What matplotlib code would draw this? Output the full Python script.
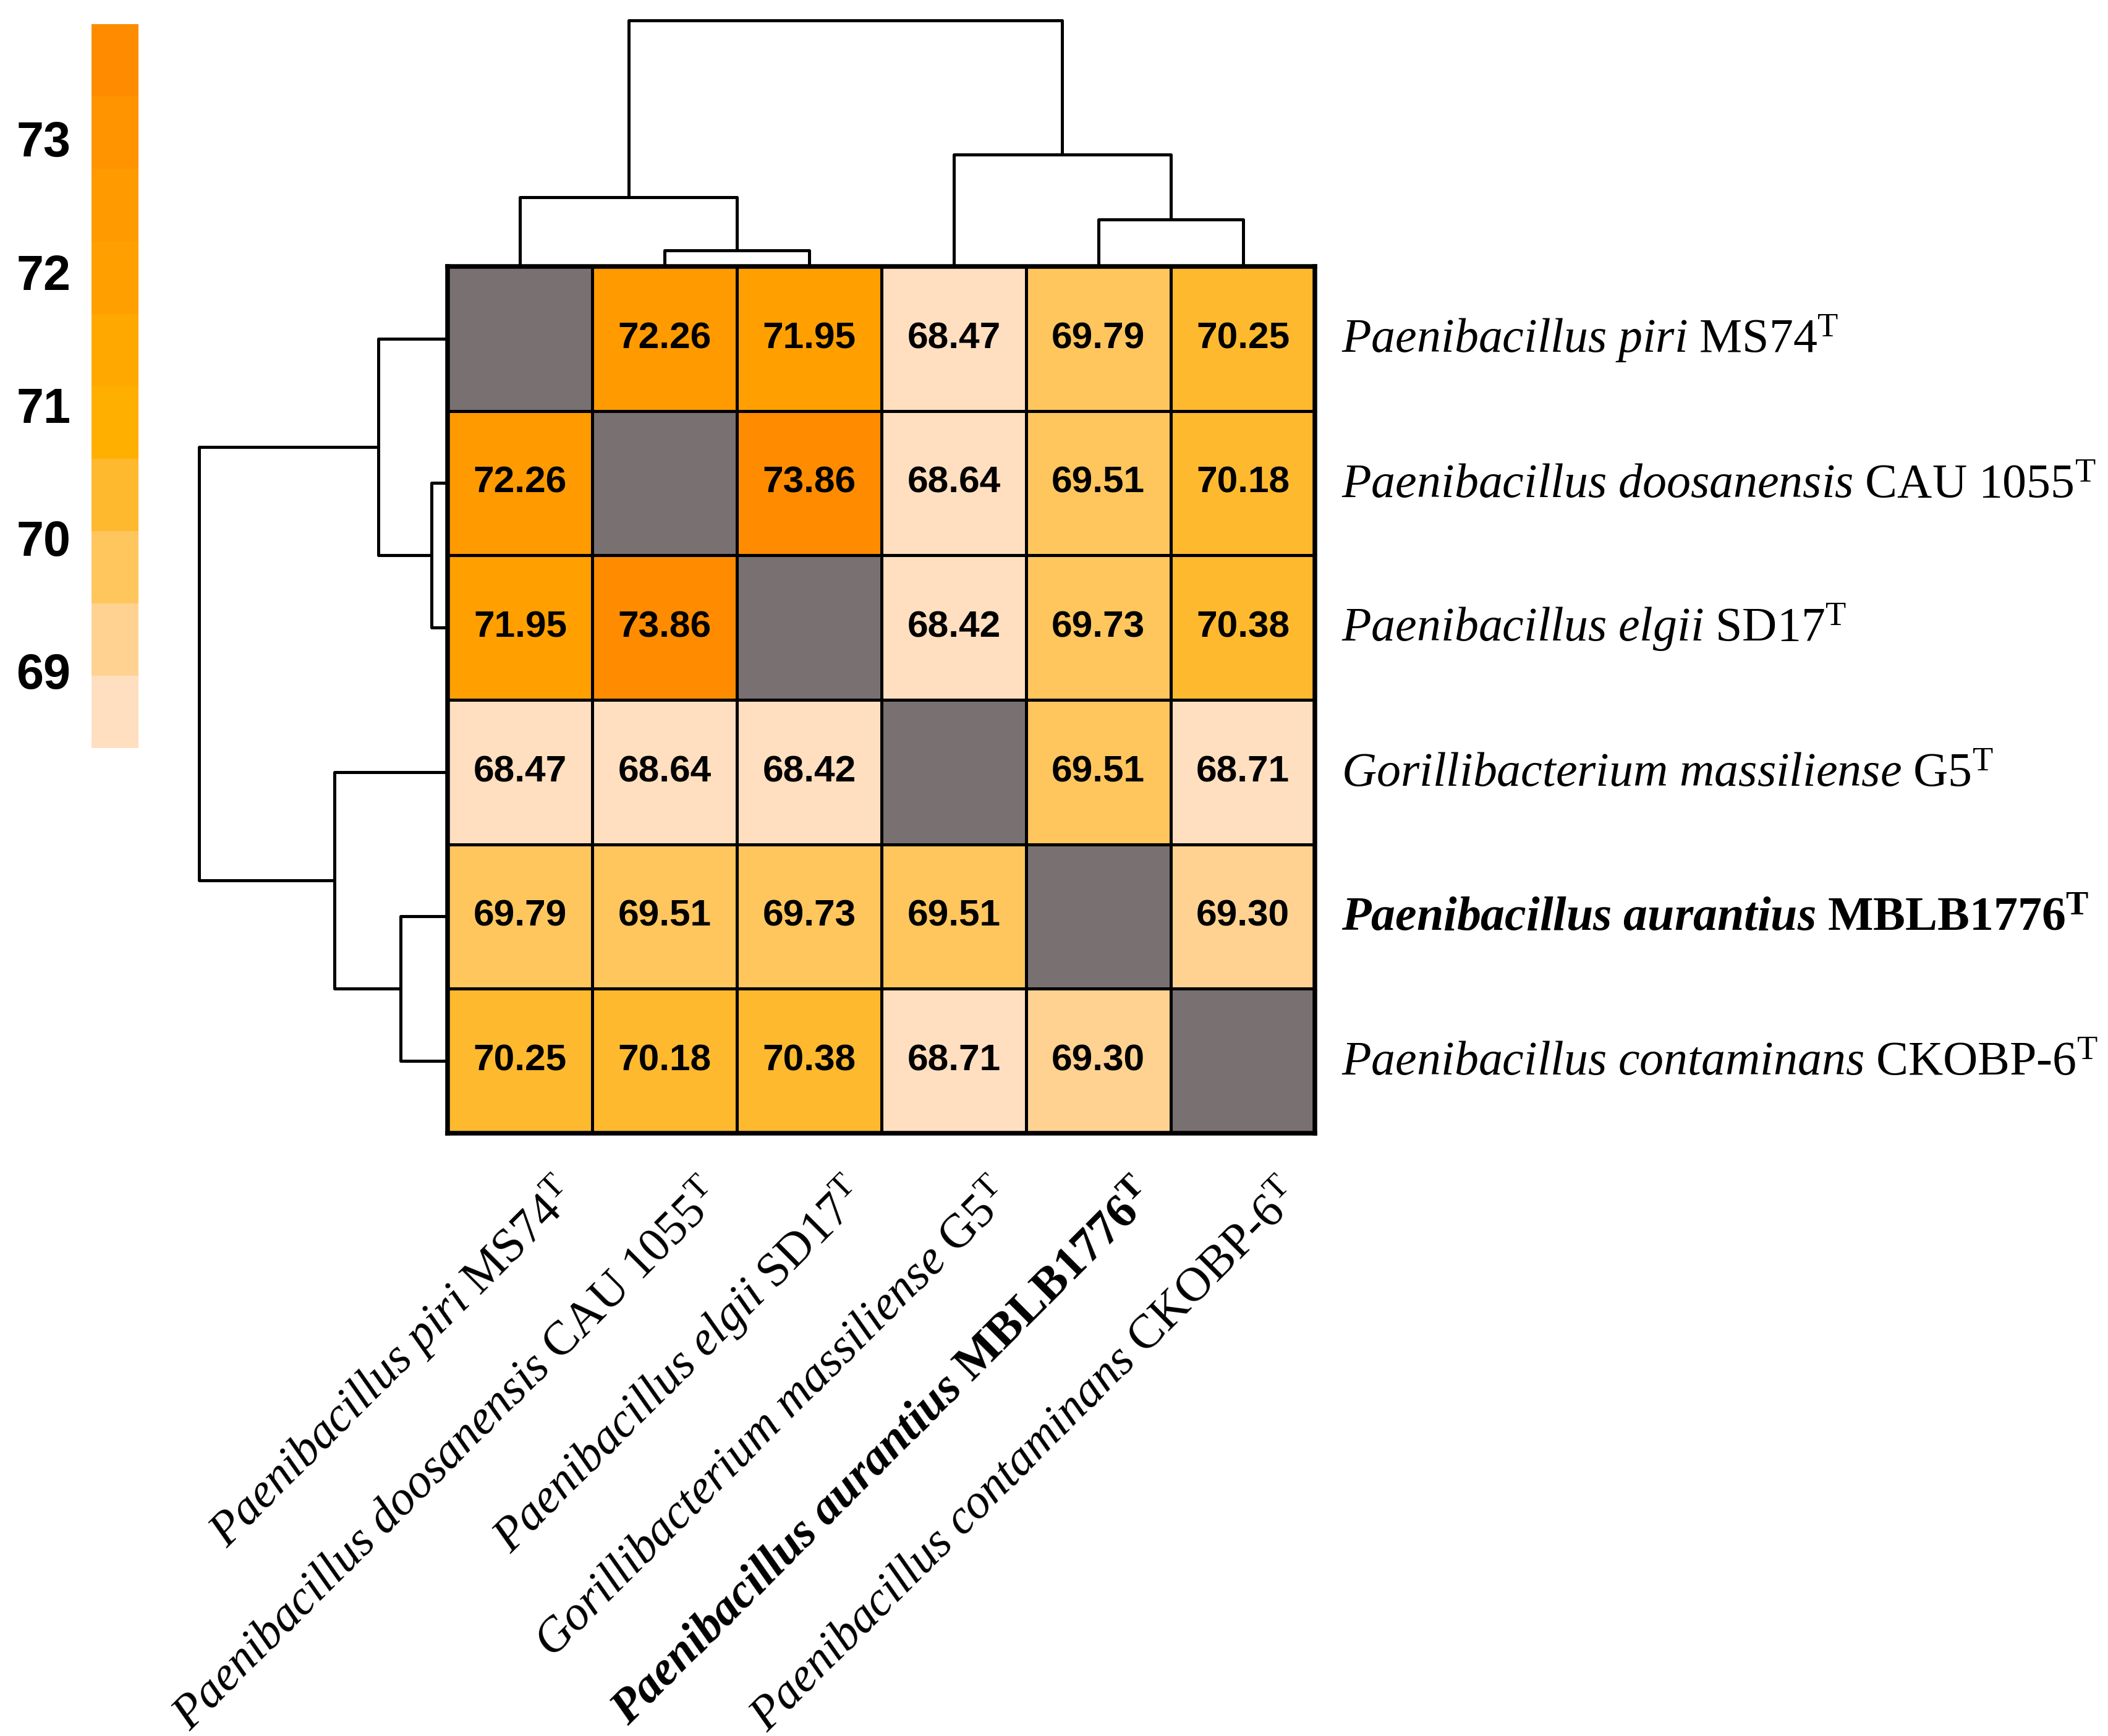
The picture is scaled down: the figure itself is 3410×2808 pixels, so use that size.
import numpy as np
import matplotlib
matplotlib.use("Agg")
import matplotlib.pyplot as plt
from matplotlib.colors import ListedColormap, BoundaryNorm
from matplotlib.cm import ScalarMappable

# -------------------------------
# Data
# -------------------------------
species = ["Paenibacillus piri", "Paenibacillus doosanensis", "Paenibacillus elgii",
           "Gorillibacterium massiliense", "Paenibacillus aurantius", "Paenibacillus contaminans"]
strains = ["MS74", "CAU 1055", "SD17", "G5", "MBLB1776", "CKOBP-6"]
bold_idx = 4  # the new strain

nan = np.nan
ani = np.array([
    [nan,   72.26, 71.95, 68.47, 69.79, 70.25],
    [72.26, nan,   73.86, 68.64, 69.51, 70.18],
    [71.95, 73.86, nan,   68.42, 69.73, 70.38],
    [68.47, 68.64, 68.42, nan,   69.51, 68.71],
    [69.79, 69.51, 69.73, 69.51, nan,   69.30],
    [70.25, 70.18, 70.38, 68.71, 69.30, nan],
])

# clustering (same tree for rows and columns): (left, right, height)
# leaves are 0..5, new nodes numbered from 6 upward
merges = [(1, 2, 0.13), (0, 6, 0.56), (4, 5, 0.38), (3, 8, 0.91), (7, 9, 2.0)]

cbar_ticks = [69, 70, 71, 72, 73]
palette = ["#FFDFBF", "#FFD292", "#FFC65E", "#FFB92E", "#FFAF00",
           "#FFA800", "#FFA000", "#FF9A00", "#FF9300", "#FF8C00"]
diag_color = "#797171"

# -------------------------------
# Fonts
# -------------------------------
plt.rcParams["mathtext.fontset"] = "custom"
plt.rcParams["mathtext.rm"] = "Liberation Serif"
plt.rcParams["mathtext.it"] = "Liberation Serif:italic"
plt.rcParams["mathtext.bf"] = "Liberation Serif:bold"
plt.rcParams["mathtext.bfit"] = "Liberation Serif:italic:bold"


def make_label(sp, st, bold):
    sp = sp.replace(" ", r"\ ")
    st = st.replace(" ", r"\ ").replace("-", r"\text{-}")
    if bold:
        return r"$\mathbfit{" + sp + r"}\ \mathbf{" + st + r"}^{\mathbf{T}}$"
    return r"$\mathit{" + sp + r"}\ \mathrm{" + st + r"}^{\mathrm{T}}$"


labels = [make_label(sp, st, i == bold_idx) for i, (sp, st) in enumerate(zip(species, strains))]
n = len(labels)

# -------------------------------
# Figure
# -------------------------------
fig = plt.figure(figsize=(11.37, 9.36), dpi=300)

ax = fig.add_axes([0.2124, 0.3473, 0.4113, 0.4992])
ax_left = fig.add_axes([0.0944, 0.3473, 0.118, 0.4992])
ax_top = fig.add_axes([0.2124, 0.8465, 0.4113, 0.1419])
cax = fig.add_axes([0.0434, 0.569, 0.0223, 0.417])

vmin, vmax = np.nanmin(ani), np.nanmax(ani)
cmap = ListedColormap(palette)
cmap.set_bad(diag_color)
norm = BoundaryNorm(np.linspace(vmin, vmax, len(palette) + 1), cmap.N)

ax.pcolormesh(np.ma.masked_invalid(ani), cmap=cmap, norm=norm,
              edgecolors="black", linewidth=1.1)
ax.set_xlim(0, n)
ax.set_ylim(n, 0)
ax.set_xticks([])
ax.set_yticks([])
for s in ax.spines.values():
    s.set_linewidth(1.8)

for i in range(n):
    for j in range(n):
        if not np.isnan(ani[i, j]):
            ax.text(j + 0.5, i + 0.5, f"{ani[i, j]:.2f}", ha="center", va="center",
                    fontsize=14.5, fontweight="bold", family="Liberation Sans")

# row labels on the right
for i, lab in enumerate(labels):
    ax.text(n + 0.18, i + 0.5, lab, ha="left", va="center", fontsize=18.7,
            clip_on=False)

# column labels below, rotated
for j, lab in enumerate(labels):
    ax.text(j + 0.84, n + 0.38, lab, ha="right", va="center", fontsize=18.7,
            rotation=45, rotation_mode="anchor", clip_on=False)


# -------------------------------
# Dendrograms
# -------------------------------
def draw_dendro(a, orient):
    pos = {k: k + 0.5 for k in range(n)}
    hgt = {k: 0.0 for k in range(n)}
    for m, (l, r, h) in enumerate(merges):
        node = n + m
        xs = [pos[l], pos[l], pos[r], pos[r]]
        ys = [hgt[l], h, h, hgt[r]]
        if orient == "top":
            a.plot(xs, ys, color="black", lw=1.2, clip_on=False, solid_capstyle="butt")
        else:
            a.plot(ys, xs, color="black", lw=1.2, clip_on=False, solid_capstyle="butt")
        pos[node] = (pos[l] + pos[r]) / 2
        hgt[node] = h
    top_h = merges[-1][2]
    if orient == "top":
        a.set_xlim(0, n)
        a.set_ylim(0, top_h)
    else:
        a.set_ylim(n, 0)
        a.set_xlim(top_h, 0)
    a.axis("off")


draw_dendro(ax_top, "top")
draw_dendro(ax_left, "left")

# -------------------------------
# Colour bar
# -------------------------------
sm = ScalarMappable(norm=norm, cmap=cmap)
cb = fig.colorbar(sm, cax=cax, ticks=cbar_ticks)
cb.outline.set_visible(False)
cax.minorticks_off()
cax.yaxis.set_ticks_position("left")
cax.tick_params(which="both", length=0, pad=8)
for t in cax.get_yticklabels():
    t.set_fontsize(19)
    t.set_fontweight("bold")
    t.set_family("Liberation Sans")

fig.savefig("out.png", dpi=300)
